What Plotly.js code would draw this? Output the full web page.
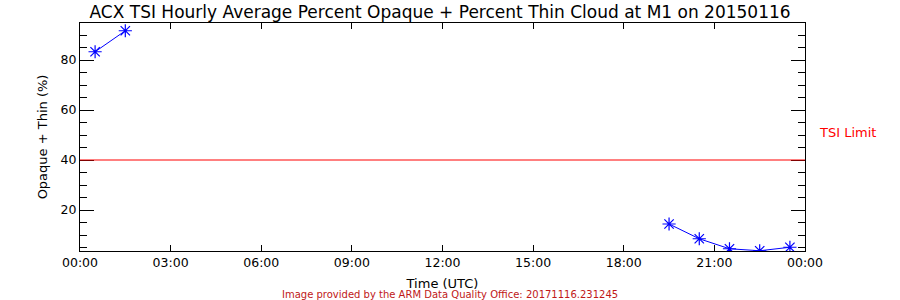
<!DOCTYPE html>
<html>
<head>
<meta charset="utf-8">
<script src="https://cdn.plot.ly/plotly-3.0.1.min.js"></script>
<style>html,body{margin:0;padding:0;background:#fff}#chart{width:900px;height:300px}</style>
</head>
<body>
<div id="chart"></div>
<script>
// Hourly time stamps (UTC, mid-hour) and observed percent opaque + thin
const times = ["2015-01-16 00:30", "2015-01-16 01:30", "2015-01-16 02:30", "2015-01-16 19:30",
               "2015-01-16 20:30", "2015-01-16 21:30", "2015-01-16 22:30", "2015-01-16 23:30"];
const cloudPct = [83.3, 91.7, null, 14.4, 8.5, 4.5, 3.7, 5.1];
const tsiLimit = 40;
const tickVals = ["2015-01-16 00:00", "2015-01-16 03:00", "2015-01-16 06:00", "2015-01-16 09:00",
                  "2015-01-16 12:00", "2015-01-16 15:00", "2015-01-16 18:00", "2015-01-16 21:00",
                  "2015-01-17 00:00"];
const tickText = ["00:00", "03:00", "06:00", "09:00", "12:00", "15:00", "18:00", "21:00", "00:00"];

const font = "DejaVu Sans, sans-serif";
const trace = {
  x: times, y: cloudPct, type: "scatter", mode: "lines+markers",
  connectgaps: false,
  line: {color: "#0000ff", width: 1},
  marker: {symbol: "asterisk-open", size: 11, color: "#0000ff", line: {color: "#0000ff", width: 1.2}},
  hoverinfo: "skip"
};
const layout = {
  width: 900, height: 300,
  margin: {l: 80, r: 95, t: 23, b: 49},
  paper_bgcolor: "#fff", plot_bgcolor: "#fff",
  showlegend: false,
  font: {family: font, size: 13, color: "#000"},
  title: {text: "ACX TSI Hourly Average Percent Opaque + Percent Thin Cloud at M1 on 20150116",
          font: {family: font, size: 17, color: "#000"}, x: 0.489, xanchor: "center", y: 0.96, yanchor: "middle", yref: "container"},
  xaxis: {
    type: "date", range: ["2015-01-16 00:00", "2015-01-17 00:00"],
    tickmode: "array", tickvals: tickVals, ticktext: tickText,
    ticks: "inside", ticklen: 6, tickwidth: 1, tickcolor: "#000",
    showline: true, linecolor: "#000", linewidth: 1, mirror: "ticks",
    showgrid: false, zeroline: false,
    tickfont: {family: font, size: 12.5, color: "#000"},
    title: {text: "Time (UTC)", font: {family: font, size: 13, color: "#000"}, standoff: 9}
  },
  yaxis: {
    range: [3.6, 94.8], tickmode: "linear", tick0: 0, dtick: 20,
    ticks: "inside", ticklen: 14, tickwidth: 1, tickcolor: "#000",
    minor: {dtick: 5, tick0: 0, ticks: "inside", ticklen: 7, tickcolor: "#000", showgrid: false},
    showline: true, linecolor: "#000", linewidth: 1, mirror: "ticks",
    showgrid: false, zeroline: false,
    tickfont: {family: font, size: 12.5, color: "#000"},
    title: {text: "Opaque + Thin (%)", font: {family: font, size: 13, color: "#000"}, standoff: 10}
  },
  shapes: [{type: "line", xref: "paper", x0: 0, x1: 1, yref: "y", y0: tsiLimit, y1: tsiLimit,
            line: {color: "#ff0000", width: 1}}],
  annotations: [
    {text: "TSI Limit", xref: "paper", x: 1.016, xanchor: "left", yref: "paper", y: 0.519, yanchor: "middle",
     showarrow: false, font: {family: font, size: 13, color: "#ff0000"}},
    {text: "Image provided by the ARM Data Quality Office: 20171116.231245", xref: "paper", x: 0.51, xanchor: "center",
     yref: "paper", y: -0.19, yanchor: "middle", showarrow: false, font: {family: font, size: 10, color: "#c01818"}}
  ]
};
Plotly.newPlot("chart", [trace], layout, {displayModeBar: false, staticPlot: true});
</script>
</body>
</html>
